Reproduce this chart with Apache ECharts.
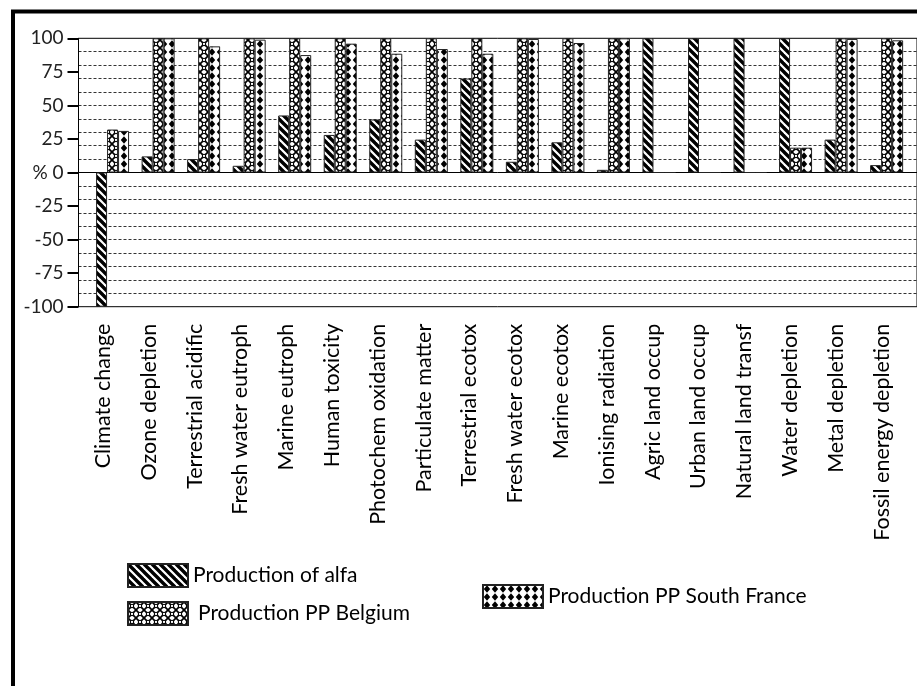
<!DOCTYPE html>
<html>
<head>
<meta charset="utf-8">
<title>Impact categories</title>
<script src="https://cdn.jsdelivr.net/npm/echarts@6/dist/echarts.min.js"></script>
<style>
  html, body { margin: 0; padding: 0; background: #ffffff; }
  #chart { width: 917px; height: 686px; }
</style>
</head>
<body>
<div id="chart"></div>
<script>
// Impact categories (x axis)
const categories = [
  'Climate change', 'Ozone depletion', 'Terrestrial acidific', 'Fresh water eutroph',
  'Marine eutroph', 'Human toxicity', 'Photochem oxidation', 'Particulate matter',
  'Terrestrial ecotox', 'Fresh water ecotox', 'Marine ecotox', 'Ionising radiation',
  'Agric land occup', 'Urban land occup', 'Natural land transf', 'Water depletion',
  'Metal depletion', 'Fossil energy depletion'
];

// Relative contribution of each production system, in %
const alfaValues = [-100, 12, 10, 5, 42.5, 28, 39.5, 24.5, 70, 8, 22.5, 2, 100, 100, 100, 100, 24.5, 5.5];
const belgiumValues = [32, 100, 100, 100, 100, 100, 100, 100, 100, 100, 100, 100, 0, 0, 0, 18.5, 100, 100];
const southFranceValues = [31, 100, 94, 99, 87.5, 96, 88.5, 92, 88.5, 99.5, 96.5, 100, 0, 0, 0, 18.5, 99.5, 98.5];

const seriesNames = ['Production of alfa', 'Production PP Belgium', 'Production PP South France'];

// Value axis: labelled every 25, gridlines every 10
const yMin = -100;
const yMax = 100;
const yLabelStep = 25;
const yGridStep = 10;

const FONT = 'Lato, "Open Sans", sans-serif';

// --- hatch fills --------------------------------------------------------
function makeTile(w, h, draw) {
  const c = document.createElement('canvas');
  c.width = w; c.height = h;
  const g = c.getContext('2d');
  g.fillStyle = '#ffffff';
  g.fillRect(0, 0, w, h);
  draw(g, w, h);
  return c;
}

// wide downward diagonal stripes
const stripeTile = makeTile(8, 8, function (g) {
  g.strokeStyle = '#000';
  g.lineWidth = 3.4;
  g.lineCap = 'square';
  for (let k = -8; k <= 8; k += 8) {
    g.beginPath();
    g.moveTo(k - 2, -2);
    g.lineTo(k + 10, 10);
    g.stroke();
  }
});

// outlined diamond lattice with small rings
const latticeTile = makeTile(8, 8, function (g) {
  g.strokeStyle = '#000';
  g.lineWidth = 1.7;
  g.beginPath();
  g.moveTo(0, 0); g.lineTo(8, 8);
  g.moveTo(8, 0); g.lineTo(0, 8);
  g.stroke();
  g.fillStyle = '#fff';
  g.beginPath();
  g.arc(4, 4, 1.7, 0, Math.PI * 2);
  g.fill();
  g.lineWidth = 1.1;
  g.stroke();
});

// chained black diamonds
const diamondTile = makeTile(8, 8, function (g) {
  g.fillStyle = '#000';
  g.beginPath();
  g.moveTo(4, 0.3);
  g.lineTo(7.2, 4);
  g.lineTo(4, 7.7);
  g.lineTo(0.8, 4);
  g.closePath();
  g.fill();
});

const fills = [
  { image: stripeTile, repeat: 'repeat' },
  { image: latticeTile, repeat: 'repeat' },
  { image: diamondTile, repeat: 'repeat' }
];
const dataSets = [alfaValues, belgiumValues, southFranceValues];

const chart = echarts.init(document.getElementById('chart'), null, { renderer: 'canvas' });

const plotTop = 38.3;
const plotHeight = 268.4;

const legendDefs = [
  { data: [seriesNames[0]], left: 127, top: 563 },
  { data: [seriesNames[1]], left: 127, top: 601, textPad: [0, 0, 0, 5] },
  { data: [seriesNames[2]], left: 482, top: 584 }
];

const option = {
  backgroundColor: '#ffffff',
  animation: false,
  textStyle: { fontFamily: FONT },
  graphic: [
    {
      type: 'rect',
      silent: true,
      shape: { x: 13, y: 11.5, width: 1000, height: 1000 },
      style: { fill: null, stroke: '#000', lineWidth: 4 },
      z: 100
    }
  ],
  grid: [
    // frame, value axis and gridlines
    {
      left: 78.5, right: -3, top: plotTop, height: plotHeight,
      show: true, borderColor: '#000', borderWidth: 1, backgroundColor: 'transparent'
    },
    // bars
    { left: 89.8, width: 819.6, top: plotTop, height: plotHeight },
    // category labels
    { left: 80.1, width: 824.4, top: plotTop, height: plotHeight }
  ],
  xAxis: [
    {
      gridIndex: 0, type: 'value', min: 0, max: 1,
      axisLine: { show: true, onZero: true, lineStyle: { color: '#000', width: 1 } },
      axisTick: { show: false }, axisLabel: { show: false }, splitLine: { show: false }
    },
    {
      gridIndex: 1, type: 'category', data: categories,
      axisLine: { show: false, onZero: false },
      axisTick: { show: false }, axisLabel: { show: false }, splitLine: { show: false }
    },
    {
      gridIndex: 2, type: 'category', data: categories,
      axisLine: { show: false, onZero: false },
      axisTick: { show: false },
      splitLine: { show: false },
      axisLabel: {
        interval: 0, rotate: 90, margin: 17,
        fontSize: 21.5, fontFamily: FONT, color: '#000'
      }
    }
  ],
  yAxis: [
    {
      gridIndex: 0, type: 'value', min: yMin, max: yMax, interval: yLabelStep,
      axisLine: { show: true, onZero: false, lineStyle: { color: '#000', width: 1 } },
      axisTick: { show: true, length: 11, lineStyle: { color: '#000', width: 2 } },
      axisLabel: {
        margin: 15, fontSize: 19, fontFamily: FONT, color: '#222',
        formatter: function (v) { return v === 0 ? '% 0' : String(v); }
      },
      splitLine: { show: false }
    },
    {
      gridIndex: 0, type: 'value', min: yMin, max: yMax, interval: yGridStep,
      axisLine: { show: false }, axisTick: { show: false }, axisLabel: { show: false },
      splitLine: { show: true, lineStyle: { color: '#333', width: 1, type: [3, 2] } }
    },
    { gridIndex: 1, type: 'value', min: yMin, max: yMax, show: false },
    { gridIndex: 2, type: 'value', min: yMin, max: yMax, show: false }
  ],
  legend: legendDefs.map(function (l) {
    return {
      data: l.data, left: l.left, top: l.top, padding: 0,
      orient: 'horizontal', itemWidth: 60, itemHeight: 23, selectedMode: false,
      icon: 'rect',
      textStyle: { fontSize: 21, fontFamily: FONT, color: '#000', padding: l.textPad || 0 }
    };
  }),
  series: seriesNames.map(function (name, i) {
    return {
      name: name,
      type: 'bar',
      xAxisIndex: 1,
      yAxisIndex: 2,
      barWidth: 11,
      barGap: '0%',
      data: dataSets[i],
      itemStyle: { color: fills[i], borderColor: '#222', borderWidth: 1 },
      emphasis: { disabled: true }
    };
  })
};

chart.setOption(option);
</script>
</body>
</html>
